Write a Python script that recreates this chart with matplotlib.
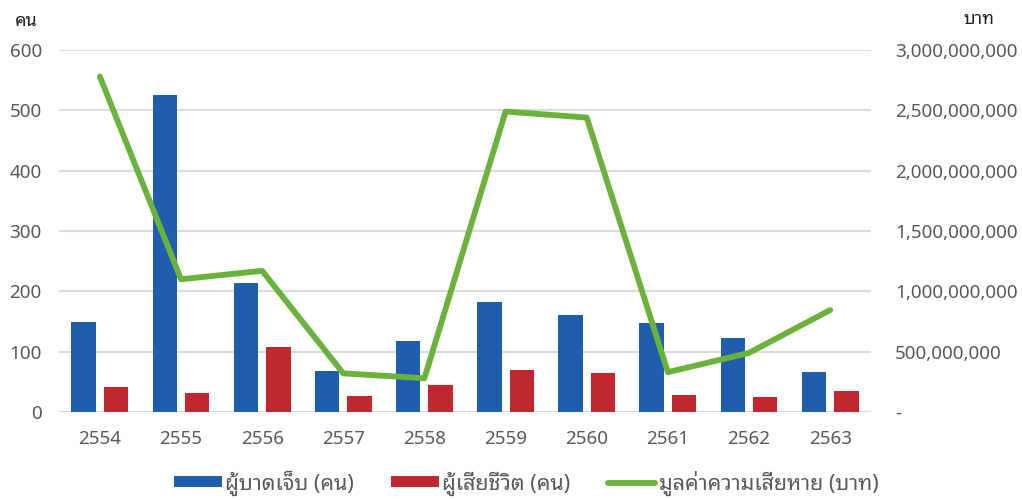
import numpy as np
import matplotlib
matplotlib.use("Agg")
import matplotlib.pyplot as plt
from matplotlib import font_manager
from matplotlib.ft2font import FT2Font
from matplotlib.ticker import FuncFormatter, MultipleLocator

years = ["2554", "2555", "2556", "2557", "2558", "2559", "2560", "2561", "2562", "2563"]
injured = [150, 525, 213, 68, 118, 183, 160, 147, 123, 66]
deaths = [42, 31, 107, 27, 45, 70, 64, 29, 25, 35]
damage = [2.78e9, 1.10e9, 1.17e9, 0.32e9, 0.28e9, 2.49e9, 2.44e9, 0.33e9, 0.49e9, 0.845e9]

labels = ["ผู้บาดเจ็บ (คน)", "ผู้เสียชีวิต (คน)", "มูลค่าความเสียหาย (บาท)"]


def thai_family():
    # find an installed font that has Thai glyphs
    found = []
    for f in font_manager.fontManager.ttflist:
        try:
            cmap = FT2Font(f.fname).get_charmap()
        except Exception:
            continue
        if 0x0E04 in cmap and 0x0E1A in cmap:
            found.append(f.name)
    pref = [n for n in found if "Noto Sans" in n] + found
    return pref[0] if pref else "DejaVu Sans"


fam = thai_family()
plt.rcParams["font.family"] = [fam, "DejaVu Sans"]

grey = "#595959"
blue = "#1F5DAE"
red = "#C1272F"
green = "#6AB23C"

fig = plt.figure(figsize=(10.22, 5), dpi=100)
ax = fig.add_axes([0.058, 0.176, 0.794, 0.724])
ax2 = ax.twinx()

x = np.arange(len(years))
w = 0.3
ax.bar(x - 0.2, injured, w, color=blue, label=labels[0], zorder=3)
ax.bar(x + 0.2, deaths, w, color=red, label=labels[1], zorder=3)
ax2.plot(x, damage, color=green, lw=4.2, label=labels[2], solid_capstyle="round", zorder=4)

ax.set_xlim(-0.5, len(years) - 0.5)
ax.set_ylim(0, 600)
ax.yaxis.set_major_locator(MultipleLocator(100))
ax2.set_ylim(0, 3e9)
ax2.yaxis.set_major_locator(MultipleLocator(5e8))
ax2.yaxis.set_major_formatter(FuncFormatter(lambda v, p: "-" if v == 0 else f"{v:,.0f}"))

ax.grid(axis="y", color="#D9DDE0", lw=1.5, zorder=0)
ax.set_axisbelow(True)
for a in (ax, ax2):
    for s in a.spines.values():
        s.set_visible(False)
    a.tick_params(length=0, labelsize=13.6, labelcolor=grey)
ax.tick_params(axis="y", pad=12.6)
ax2.tick_params(axis="y", pad=17.6)
ax.tick_params(axis="x", pad=13)
ax.set_xticks(x, years)
ax.axhline(0, color="#D9DDE0", lw=1.5, zorder=2)

ax.set_zorder(ax2.get_zorder() - 1)
ax.patch.set_visible(False)

fig.text(0.026, 0.958, "คน", fontsize=13, color="#222222", ha="center", va="center")
fig.text(0.958, 0.962, "บาท", fontsize=13, color="#222222", ha="center", va="center")

h1, l1 = ax.get_legend_handles_labels()
h2, l2 = ax2.get_legend_handles_labels()
fig.legend(h1 + h2, l1 + l2, loc="center", bbox_to_anchor=(0.515, 0.034), ncol=3,
           frameon=False, fontsize=15.5, labelcolor=grey, handlelength=2.2,
           handleheight=0.4, handletextpad=0.15, columnspacing=1.75,
           borderpad=0.2)

fig.savefig("out.png", dpi=100, facecolor="white")
